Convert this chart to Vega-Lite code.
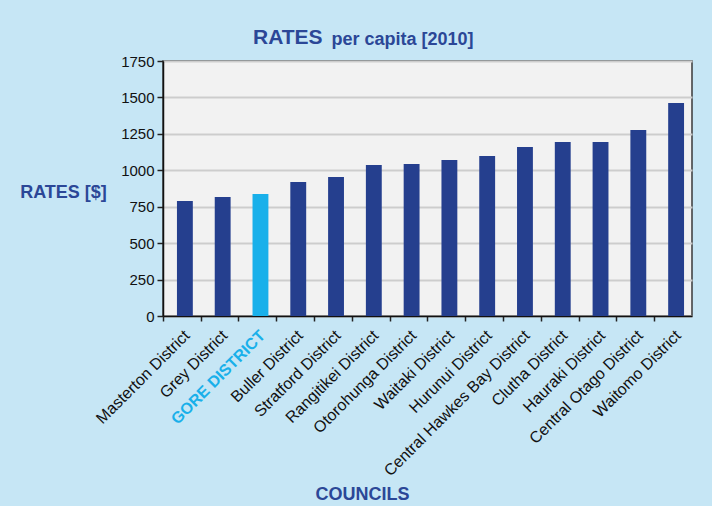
{
  "$schema": "https://vega.github.io/schema/vega-lite/v6.json",
  "autosize": {"type": "none"},
  "width": 529,
  "height": 255,
  "padding": {"left": 163, "top": 61, "right": 20, "bottom": 190},
  "background": "#c6e6f5",
  "title": {
    "text": "RATES",
    "anchor": "start",
    "frame": "group",
    "dx": 90,
    "baseline": "alphabetic",
    "offset": -35,
    "font": "Liberation Sans",
    "fontSize": 21,
    "fontWeight": "bold",
    "color": "#2b4797"
  },
  "config": {
    "font": "Liberation Sans",
    "view": {"fill": "#f2f2f2", "stroke": "#3a3a3a", "strokeWidth": 1.5}
  },
  "data": {
    "values": [
      {"council": "Masterton District", "rates": 789},
      {"council": "Grey District", "rates": 816},
      {"council": "GORE DISTRICT", "rates": 837},
      {"council": "Buller District", "rates": 919},
      {"council": "Stratford District", "rates": 954},
      {"council": "Rangitikei District", "rates": 1036},
      {"council": "Otorohunga District", "rates": 1043},
      {"council": "Waitaki District", "rates": 1070},
      {"council": "Hurunui District", "rates": 1098},
      {"council": "Central Hawkes Bay District", "rates": 1159},
      {"council": "Clutha District", "rates": 1194},
      {"council": "Hauraki District", "rates": 1194},
      {"council": "Central Otago District", "rates": 1276},
      {"council": "Waitomo District", "rates": 1461}
    ]
  },
  "layer": [
    {
      "mark": {"type": "bar", "xOffset": 3},
      "encoding": {
        "x": {
          "field": "council",
          "type": "nominal",
          "sort": null,
          "scale": {"paddingInner": 0.58, "paddingOuter": 0.29},
          "axis": {
            "orient": "bottom",
            "title": "COUNCILS",
            "titleFont": "Liberation Sans",
            "titleFontSize": 18,
            "titleFontWeight": "bold",
            "titleColor": "#2b4797",
            "titleX": 199,
            "titleY": 183,
            "titleAlign": "center",
            "titleBaseline": "alphabetic",
            "labelAngle": -45,
            "labelFontSize": 16,
            "labelLimit": 400,
            "labelColor": {"condition": {"test": "datum.value === 'GORE DISTRICT'", "value": "#19b0ea"}, "value": "#111111"},
            "labelFontWeight": {"condition": {"test": "datum.value === 'GORE DISTRICT'", "value": "bold"}, "value": "normal"},
            "labelPadding": 6,
            "tickOffset": -19,
            "labelOffset": 18,
            "ticks": true,
            "tickSize": 5,
            "tickColor": "#222222",
            "tickWidth": 1.5,
            "domainColor": "#111111",
            "domainWidth": 1.5,
            "grid": false
          }
        },
        "y": {
          "field": "rates",
          "type": "quantitative",
          "scale": {"domain": [0, 1750], "nice": false},
          "axis": {
            "values": [0, 250, 500, 750, 1000, 1250, 1500, 1750],
            "format": "d",
            "title": "RATES [$]",
            "titleAngle": 0,
            "titleFont": "Liberation Sans",
            "titleFontSize": 18,
            "titleFontWeight": "bold",
            "titleColor": "#2b4797",
            "titleX": -100,
            "titleY": 136,
            "titleAlign": "center",
            "titleBaseline": "alphabetic",
            "labelFontSize": 15,
            "labelColor": "#111111",
            "labelPadding": 3,
            "tickSize": 6,
            "tickColor": "#222222",
            "tickWidth": 1.5,
            "domainColor": "#111111",
            "domainWidth": 1.5,
            "grid": true,
            "gridColor": "#cdcdcd",
            "gridWidth": 1.8
          }
        },
        "color": {
          "condition": {"test": "datum.council === 'GORE DISTRICT'", "value": "#19b0ea"},
          "value": "#253f8e"
        }
      }
    },
    {
      "mark": {"type": "bar", "opacity": 0},
      "encoding": {
        "x": {
          "field": "council",
          "type": "nominal",
          "sort": null,
          "axis": {
            "orient": "top",
            "labels": false,
            "ticks": false,
            "domain": false,
            "grid": false,
            "title": "per capita [2010]",
            "titleFont": "Liberation Sans",
            "titleFontSize": 18,
            "titleFontWeight": "bold",
            "titleColor": "#2b4797",
            "titleX": 168,
            "titleY": -17,
            "titleAlign": "left",
            "titleBaseline": "alphabetic"
          }
        }
      }
    }
  ],
  "resolve": {"axis": {"x": "independent"}}
}
